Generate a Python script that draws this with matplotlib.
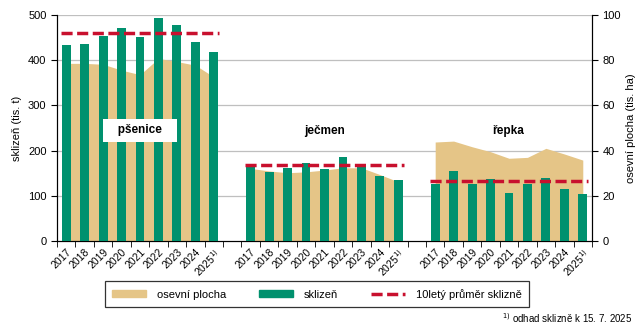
import numpy as np
import matplotlib.pyplot as plt
from matplotlib.lines import Line2D
from matplotlib.patches import Patch

plt.rcParams['font.family'] = ['Liberation Sans', 'DejaVu Sans']

years = ['2017', '2018', '2019', '2020', '2021', '2022', '2023', '2024', '2025$^{1)}$']
crops = ['pšenice', 'ječmen', 'řepka']

# sklizeň (tis. t) - left axis
harvest = {
    'pšenice': [434, 436, 453, 471, 451, 493, 478, 440, 418],
    'ječmen': [164, 153, 161, 173, 159, 186, 166, 144, 135],
    'řepka': [126, 155, 126, 137, 106, 126, 139, 115, 104],
}
# osevní plocha (tis. ha) - right axis
area = {
    'pšenice': [78.6, 78.6, 78.2, 75.6, 73.6, 80.8, 79.4, 77.8, 72.6],
    'ječmen': [32.1, 31.0, 30.2, 30.6, 31.4, 32.4, 32.4, 29.4, 26.2],
    'řepka': [43.8, 44.2, 41.7, 39.5, 36.6, 37.0, 41.0, 38.5, 35.8],
}
# 10letý průměr sklizně
avg10 = {'pšenice': 460, 'ječmen': 168, 'řepka': 133}

GREEN = '#00916e'
TAN = '#e5c587'
RED = '#c8102e'

fig = plt.figure(figsize=(6.43, 3.29), dpi=100)
ax2 = fig.add_axes([0.0886, 0.2675, 0.8321, 0.6869])
ax = ax2.twinx()
ax.yaxis.tick_left()
ax.yaxis.set_label_position('left')
ax2.yaxis.tick_right()
ax2.yaxis.set_label_position('right')
ax.set_zorder(ax2.get_zorder() + 1)
ax.patch.set_visible(False)
ax.grid(False)
ax2.grid(False)

# gridlines under the area
for v in range(20, 101, 20):
    ax2.axhline(v, color='#bfbfbf', lw=0.9, zorder=0.5)

n = len(years)
xt, xl = [], []
for g, crop in enumerate(crops):
    x = np.arange(n) + g * (n + 1)
    ax2.fill_between(x, area[crop], color=TAN, lw=0, zorder=2)
    ax.bar(x, harvest[crop], width=0.48, color=GREEN, zorder=3)
    ax.plot([x[0] - 0.3, x[-1] + 0.3], [avg10[crop]] * 2, color=RED, lw=2.5,
            dashes=(3.2, 1.3), zorder=4)
    xt += list(x)
    xl += years
    if g == 0:
        ax.text(x[4], 245, '   ' + crop + '   ', ha='center', va='center',
                fontsize=8.5, fontweight='bold', zorder=5,
                bbox=dict(facecolor='white', edgecolor='none', boxstyle='square,pad=0.45'))
    else:
        ax.text(x[4], 243, crop, ha='center', va='center',
                fontsize=8.5, fontweight='bold', zorder=5)

total = 3 * n + 2
ax2.set_xlim(-0.5, total - 0.5)
ax.set_ylim(0, 500)
ax2.set_ylim(0, 100)
ax.set_yticks(range(0, 501, 100))
ax2.set_yticks(range(0, 101, 20))

ax2.set_xticks(xt)
ax2.set_xticklabels(xl, rotation=45, ha='right', rotation_mode='anchor', fontsize=7.5)
ax2.set_xticks(np.arange(-0.5, total, 1.0), minor=True)
ax2.tick_params(axis='x', which='major', length=0, pad=4)
ax2.tick_params(axis='x', which='minor', length=4, direction='out')
ax.tick_params(axis='y', labelsize=8, length=4)
ax2.tick_params(axis='y', labelsize=8, length=4)

ax.set_ylabel('sklizeň (tis. t)', fontsize=8)
ax2.set_ylabel('osevní plocha (tis. ha)', fontsize=8)
for a in (ax, ax2):
    a.spines['top'].set_visible(False)

handles = [Patch(color=TAN, label='osevní plocha'),
           Patch(color=GREEN, label='sklizeň'),
           Line2D([], [], color=RED, lw=2.5, dashes=(3.2, 1.3), label='10letý průměr sklizně')]
leg = fig.legend(handles=handles, loc='center', bbox_to_anchor=(0.493, 0.106), ncol=3,
                 fontsize=8, frameon=True, fancybox=False, edgecolor='black',
                 handlelength=3.0, handleheight=0.6, handletextpad=1.0,
                 columnspacing=3.0, borderpad=0.7)
leg.get_frame().set_linewidth(0.9)

fig.text(0.983, 0.033, '$^{1)}$ odhad sklizně k 15. 7. 2025', ha='right', va='center', fontsize=7)

fig.savefig('out.png', dpi=100)
